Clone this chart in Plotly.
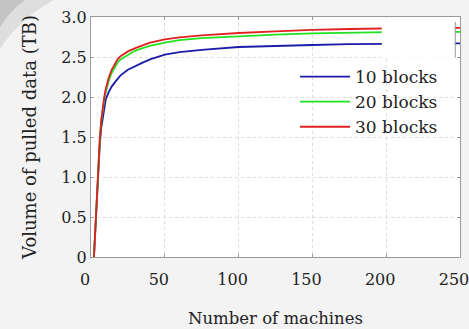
import plotly.graph_objects as go

machines = [2, 3, 4, 5, 6, 7, 8, 9, 10, 12, 14, 16, 18, 20, 25, 30, 35, 40, 50, 60, 75, 100, 125, 150, 175, 200, 225, 250]
blocks10 = [0.0, 0.35, 0.82, 1.15, 1.42, 1.62, 1.76, 1.88, 1.97, 2.06, 2.13, 2.18, 2.23, 2.27, 2.34, 2.39, 2.43, 2.47, 2.53, 2.56, 2.59, 2.625, 2.64, 2.65, 2.66, 2.665, 2.67, 2.67]
blocks20 = [0.0, 0.37, 0.86, 1.2, 1.48, 1.7, 1.85, 1.97, 2.06, 2.2, 2.3, 2.37, 2.43, 2.47, 2.53, 2.58, 2.61, 2.64, 2.68, 2.71, 2.735, 2.76, 2.78, 2.795, 2.805, 2.81, 2.815, 2.815]
blocks30 = [0.0, 0.38, 0.88, 1.22, 1.5, 1.72, 1.88, 2.0, 2.1, 2.24, 2.34, 2.41, 2.47, 2.51, 2.57, 2.61, 2.65, 2.68, 2.72, 2.745, 2.77, 2.80, 2.82, 2.84, 2.85, 2.86, 2.865, 2.865]

series_names = ["10 blocks", "20 blocks", "30 blocks"]
series_values = [blocks10, blocks20, blocks30]
series_colors = ["#1c1ca8", "#22e022", "#e02020"]

x_ticks = [0, 50, 100, 150, 200, 250]
y_ticks = [0, 0.5, 1.0, 1.5, 2.0, 2.5, 3.0]
y_tick_labels = ["0", "0.5", "1.0", "1.5", "2.0", "2.5", "3.0"]

FONT = "DejaVu Serif"

fig = go.Figure()
for name, vals, col in zip(series_names, series_values, series_colors):
    fig.add_trace(go.Scatter(x=machines, y=vals, mode="lines", name=name,
                             line=dict(color=col, width=1.8)))

axis_common = dict(showline=True, linecolor="#9a9a9a", linewidth=1, mirror="ticks",
                   ticks="inside", ticklen=3, tickcolor="#9a9a9a",
                   showgrid=True, gridcolor="#dcdcdc", griddash="dot", gridwidth=1,
                   zeroline=False, automargin=False, ticklabeloverflow="allow",
                   tickfont=dict(family=FONT, size=16, color="#222"))

fig.update_xaxes(range=[0, 250], tickvals=x_ticks, ticklabelshift=-6, ticklabelstandoff=8, **axis_common,
                 title=dict(text="Number of machines", font=dict(family=FONT, size=16.5, color="#222"), standoff=24))
fig.update_yaxes(range=[0, 3.0], tickvals=y_ticks, ticktext=y_tick_labels, **axis_common,
                 title=dict(text="Volume of pulled data (TB)", font=dict(family=FONT, size=18, color="#222"), standoff=20))

# scanned-paper shading in the top-left corner
fig.add_shape(type="path", xref="paper", yref="paper", layer="below",
              path="M -0.25,1.08 L -0.09,1.08 Q -0.19,1.0 -0.25,0.86 Z",
              fillcolor="rgba(150,150,150,0.22)", line=dict(width=0))
fig.add_shape(type="path", xref="paper", yref="paper", layer="below",
              path="M -0.25,1.08 L -0.17,1.08 Q -0.22,1.03 -0.25,0.95 Z",
              fillcolor="rgba(120,120,120,0.25)", line=dict(width=0))

# white patch over the upper-right corner (artefact in the original figure)
fig.add_shape(type="rect", xref="x", yref="y", x0=197, x1=246.5, y0=2.49, y1=2.995,
              fillcolor="white", line=dict(width=0), layer="above")
fig.add_shape(type="line", xref="x", yref="y", x0=246.8, x1=246.8, y0=2.49, y1=2.94,
              line=dict(color="#9a9a9a", width=1), layer="above")

fig.update_layout(
    width=469, height=329,
    margin=dict(l=91, r=9, t=17, b=72),
    paper_bgcolor="#f3f3f3", plot_bgcolor="white",
    font=dict(family=FONT, size=16, color="#222"),
    legend=dict(x=0.553, y=0.825, xanchor="left", yanchor="top",
                bgcolor="rgba(0,0,0,0)", font=dict(family=FONT, size=17, color="#222"),
                itemwidth=50, tracegroupgap=0),
    showlegend=True,
)

fig.write_html("out.html", config={"displayModeBar": False},
               post_script="document.body.style.margin='0';")
